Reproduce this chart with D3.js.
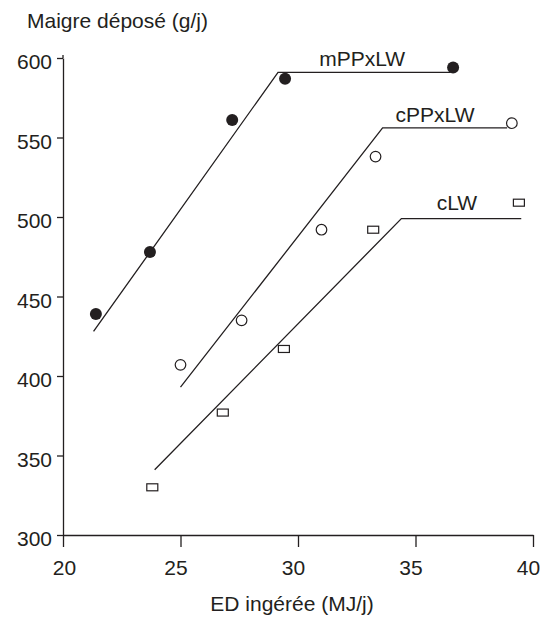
<!DOCTYPE html>
<html>
<head>
<meta charset="utf-8">
<script src="https://cdn.jsdelivr.net/npm/d3@7"></script>
<style>
  body { margin: 0; background: #fff; }
  svg text { font-family: "Liberation Sans", Arial, Helvetica, sans-serif; fill: #231f20; }
</style>
</head>
<body>
<div id="chart"></div>
<script>
// measured points
var mppX = [21.4, 23.7, 27.2, 29.45, 36.6],
    mppY = [439, 478, 561, 587, 594];
var cppX = [25.0, 27.6, 31.0, 33.3, 39.1],
    cppY = [407, 435, 492, 538, 559];
var clwX = [23.8, 26.8, 29.4, 33.2, 39.4],
    clwY = [330, 377, 417, 492, 509];

// broken-line fits (start, breakpoint, end)
var mppFitX = [21.3, 29.15, 36.5],
    mppFitY = [428, 591, 591];
var cppFitX = [25.0, 33.6, 38.9],
    cppFitY = [393, 556, 556];
var clwFitX = [23.9, 34.4, 39.5],
    clwFitY = [341, 499, 499];

var seriesNames = ["mPPxLW", "cPPxLW", "cLW"];
var labelX = [30.9, 34.15, 35.9];

var xTicks = [20, 25, 30, 35, 40],
    yTicks = [300, 350, 400, 450, 500, 550, 600];

var width = 540, height = 617;
var ink = "#231f20";
var fontSize = "21px";

var svg = d3.select("#chart").append("svg")
  .attr("width", width)
  .attr("height", height);

var x = d3.scaleLinear().domain([20, 40]).range([63, 533]);
var y = d3.scaleLinear().domain([300, 600]).range([535, 58]);

var xAxis = svg.append("g")
  .attr("transform", "translate(0," + y(300) + ")")
  .call(d3.axisBottom(x).tickValues(xTicks).tickSize(12).tickSizeOuter(0).tickPadding(13));

var yAxis = svg.append("g")
  .attr("transform", "translate(" + x(20) + ",0)")
  .call(d3.axisLeft(y).tickValues(yTicks).tickSize(6).tickSizeOuter(0).tickPadding(5));

[xAxis, yAxis].forEach(function(g) {
  g.select(".domain").attr("stroke", ink).attr("stroke-width", 1.3);
  g.selectAll(".tick line").attr("stroke", ink).attr("stroke-width", 1.3);
  g.selectAll(".tick text").style("font-size", fontSize).attr("fill", ink);
});
yAxis.selectAll(".tick text").attr("dy", "0.52em");
// the printed labels sit a touch left of their ticks
xAxis.selectAll(".tick text").attr("dx", function(d) { return d === 20 ? 1 : -5; });

// little overshoot of the y axis above 600
yAxis.append("line")
  .attr("x1", 0).attr("x2", 0)
  .attr("y1", y(600)).attr("y2", y(600) - 3)
  .attr("stroke", ink).attr("stroke-width", 1.3);

svg.append("text")
  .attr("x", 27).attr("y", 28)
  .style("font-size", fontSize)
  .text("Maigre déposé (g/j)");

svg.append("text")
  .attr("x", 292).attr("y", 611)
  .attr("text-anchor", "middle")
  .style("font-size", fontSize)
  .text("ED ingérée (MJ/j)");

var fits = [
  d3.zip(mppFitX, mppFitY),
  d3.zip(cppFitX, cppFitY),
  d3.zip(clwFitX, clwFitY)
];

var line = d3.line()
  .x(function(d) { return x(d[0]); })
  .y(function(d) { return y(d[1]); });

svg.selectAll(".fit")
  .data(fits)
  .enter().append("path")
  .attr("class", "fit")
  .attr("d", line)
  .attr("fill", "none")
  .attr("stroke", ink)
  .attr("stroke-width", 1.3);

svg.selectAll(".series-label")
  .data(seriesNames)
  .enter().append("text")
  .attr("class", "series-label")
  .attr("x", function(d, i) { return x(labelX[i]); })
  .attr("y", function(d, i) { return y(fits[i][1][1]) - (i === 2 ? 9 : 6); })
  .style("font-size", fontSize)
  .text(function(d) { return d; });

// filled circles
svg.selectAll(".mpp")
  .data(d3.zip(mppX, mppY))
  .enter().append("circle")
  .attr("class", "mpp")
  .attr("cx", function(d) { return x(d[0]); })
  .attr("cy", function(d) { return y(d[1]); })
  .attr("r", 6)
  .attr("fill", ink);

// open circles
svg.selectAll(".cpp")
  .data(d3.zip(cppX, cppY))
  .enter().append("circle")
  .attr("class", "cpp")
  .attr("cx", function(d) { return x(d[0]); })
  .attr("cy", function(d) { return y(d[1]); })
  .attr("r", 5.3)
  .attr("fill", "#fff")
  .attr("stroke", ink)
  .attr("stroke-width", 1.2);

// open rectangles
svg.selectAll(".clw")
  .data(d3.zip(clwX, clwY))
  .enter().append("rect")
  .attr("class", "clw")
  .attr("x", function(d) { return x(d[0]) - 5.5; })
  .attr("y", function(d) { return y(d[1]) - 3.5; })
  .attr("width", 11)
  .attr("height", 7)
  .attr("fill", "#fff")
  .attr("stroke", ink)
  .attr("stroke-width", 1.2);
</script>
</body>
</html>
